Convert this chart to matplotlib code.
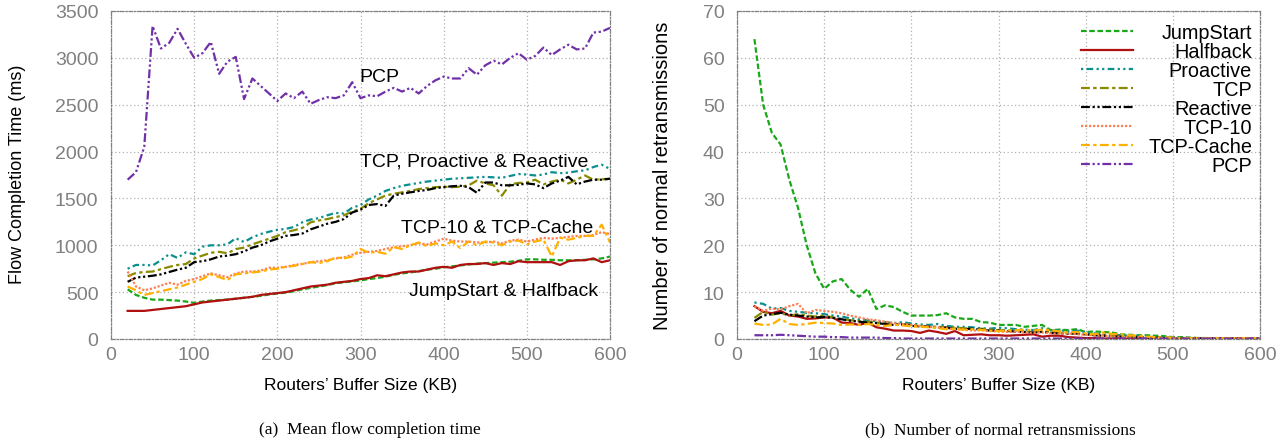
import numpy as np
import matplotlib
matplotlib.use("Agg")
from matplotlib import pyplot as plt

# buffer sizes (KB)
buf = list(range(20, 601, 10))

# (a) mean flow completion time (ms)
fct_jumpstart = [530, 470, 440, 420, 420, 415, 410, 400, 385, 400, 410, 415, 420, 430, 440, 450, 460, 475, 485, 495,
                 510, 530, 545, 560, 575, 595, 605, 615, 625, 640, 650, 665, 685, 700, 710, 725, 740, 750, 765, 775,
                 785, 795, 805, 810, 815, 820, 825, 835, 850, 850, 845, 845, 840, 840, 840, 845, 850, 860, 880]
fct_halfback = [300, 300, 300, 310, 320, 330, 340, 350, 370, 390, 400, 410, 420, 430, 440, 450, 470, 480, 490, 500,
                520, 540, 560, 570, 580, 600, 610, 620, 640, 650, 680, 670, 690, 710, 720, 720, 740, 760, 770, 760,
                790, 800, 800, 810, 790, 810, 800, 830, 820, 820, 820, 820, 790, 830, 840, 840, 860, 820, 840]
fct_proactive = [750, 790, 790, 785, 840, 905, 865, 925, 905, 985, 1000, 1000, 1010, 1075, 1035, 1085, 1120, 1145,
                 1165, 1175, 1195, 1245, 1275, 1290, 1320, 1345, 1340, 1400, 1430, 1490, 1530, 1580, 1610, 1635,
                 1650, 1665, 1680, 1690, 1700, 1710, 1715, 1720, 1725, 1730, 1725, 1720, 1740, 1760, 1755, 1745,
                 1755, 1780, 1770, 1775, 1790, 1800, 1835, 1860, 1815]
fct_tcp = [670, 705, 715, 720, 745, 770, 790, 800, 860, 890, 920, 930, 915, 960, 975, 1010, 1040, 1070, 1100, 1140,
           1160, 1185, 1245, 1265, 1280, 1300, 1320, 1360, 1390, 1450, 1490, 1530, 1550, 1565, 1580, 1600, 1610,
           1620, 1625, 1620, 1625, 1640, 1690, 1660, 1640, 1530, 1650, 1665, 1670, 1700, 1650, 1680, 1700, 1660,
           1700, 1745, 1700, 1705, 1710]
fct_reactive = [610, 655, 665, 675, 690, 715, 740, 760, 820, 830, 850, 880, 890, 905, 935, 975, 1000, 1040, 1070,
                1100, 1110, 1125, 1170, 1200, 1230, 1250, 1280, 1350, 1380, 1430, 1440, 1420, 1530, 1550, 1565,
                1580, 1590, 1610, 1620, 1630, 1635, 1620, 1560, 1670, 1670, 1640, 1640, 1645, 1660, 1650, 1610,
                1660, 1690, 1730, 1650, 1680, 1700, 1700, 1710]
fct_tcp10 = [720, 560, 520, 540, 570, 600, 580, 620, 640, 670, 700, 680, 660, 700, 720, 720, 730, 760, 760, 770,
             790, 800, 820, 830, 840, 860, 870, 900, 920, 930, 940, 960, 980, 990, 1000, 1020, 1010, 1040, 1070,
             1050, 1040, 1040, 1030, 1030, 1040, 1020, 1050, 1060, 1040, 1060, 1080, 1070, 1080, 1090, 1100, 1100,
             1110, 1140, 1120]
fct_tcpcache = [560, 520, 470, 490, 510, 530, 550, 580, 610, 640, 690, 660, 630, 690, 700, 710, 720, 740, 750, 770,
                780, 800, 820, 810, 830, 870, 860, 880, 960, 920, 930, 910, 980, 960, 1000, 1030, 990, 1020, 1000,
                1040, 970, 1040, 1000, 1040, 1030, 1000, 1040, 1050, 1010, 1040, 1060, 880, 1080, 1060, 1080, 1100,
                1100, 1220, 1030]
fct_pcp = [1700, 1780, 2050, 3340, 3100, 3160, 3310, 3150, 3000, 3050, 3170, 2830, 2960, 3010, 2560, 2780, 2700,
           2620, 2540, 2620, 2570, 2640, 2510, 2550, 2580, 2570, 2600, 2740, 2570, 2600, 2590, 2640, 2680, 2640,
           2680, 2620, 2700, 2760, 2800, 2780, 2780, 2890, 2820, 2920, 2970, 2930, 3000, 3050, 2980, 3020, 3110,
           3030, 3090, 3140, 3090, 3100, 3270, 3280, 3320]

# (b) number of normal retransmissions
rtx_jumpstart = [64, 50, 44, 41.5, 34, 28, 20, 14, 10.7, 12.3, 12.8, 10.5, 9.0, 10.7, 6.4, 7.2, 6.8, 5.8, 5.0, 5.0,
                 5.0, 5.1, 5.5, 4.6, 4.3, 4.3, 3.6, 3.5, 3.0, 3.0, 3.0, 2.6, 2.8, 3.0, 1.9, 2.0, 1.9, 2.1, 1.5, 1.6,
                 1.5, 1.4, 1.0, 0.9, 0.8, 0.8, 0.7, 0.6, 0.4, 0.4, 0.3, 0.2, 0.2, 0.1, 0.1, 0.1, 0.1, 0.1, 0.1]
rtx_halfback = [7.0, 5.8, 5.5, 6.0, 5.0, 4.8, 4.3, 4.4, 4.6, 4.6, 3.5, 3.4, 3.0, 3.5, 2.5, 2.2, 1.8, 1.8, 1.7, 1.3,
                1.8, 1.5, 1.1, 1.7, 0.8, 0.9, 1.0, 0.8, 0.8, 0.7, 0.8, 0.9, 1.0, 0.5, 0.7, 0.7, 0.4, 0.3, 0.2, 0.2,
                0.1, 0.1, 0.1, 0.1, 0.1, 0.1, 0.1, 0.1, 0.1, 0.1, 0.1, 0.1, 0.1, 0.1, 0.1, 0.1, 0.1, 0.1, 0.1]
rtx_proactive = [7.8, 7.5, 6.5, 6.6, 6.0, 5.8, 5.6, 5.5, 5.3, 5.0, 4.8, 4.4, 4.2, 4.0, 3.8, 3.6, 3.4, 3.6, 3.3, 3.1,
                 3.0, 3.2, 2.8, 2.6, 2.6, 2.5, 2.3, 2.2, 2.4, 2.3, 2.1, 2.0, 1.9, 2.3, 1.8, 1.9, 1.6, 1.8, 1.4, 1.2,
                 1.0, 0.9, 0.8, 0.7, 0.6, 0.5, 0.4, 0.3, 0.3, 0.2, 0.2, 0.1, 0.1, 0.1, 0.1, 0.1, 0.1, 0.1, 0.1]
rtx_tcp = [4.5, 5.8, 5.2, 5.5, 5.0, 5.3, 5.0, 4.8, 5.0, 4.6, 4.3, 4.0, 3.8, 3.6, 3.5, 3.3, 3.1, 3.2, 3.0, 2.8,
           2.7, 2.6, 2.5, 2.4, 2.3, 2.1, 2.2, 2.0, 1.9, 1.8, 1.9, 1.7, 1.6, 1.8, 1.5, 1.4, 1.4, 1.2, 1.0, 0.9,
           0.8, 0.7, 0.6, 0.5, 0.4, 0.4, 0.3, 0.3, 0.2, 0.1, 0.1, 0.1, 0.1, 0.1, 0.1, 0.1, 0.1, 0.1, 0.1]
rtx_reactive = [3.8, 5.0, 5.3, 5.6, 5.2, 5.0, 4.8, 4.6, 4.7, 4.5, 4.2, 3.9, 3.7, 3.5, 3.4, 3.2, 3.0, 3.1, 2.8, 2.7,
                2.6, 2.4, 2.4, 2.2, 2.1, 2.2, 2.0, 1.8, 1.8, 1.7, 1.6, 1.5, 1.4, 1.5, 1.3, 1.2, 1.1, 1.2, 1.0, 0.8,
                0.7, 0.6, 0.5, 0.4, 0.4, 0.3, 0.3, 0.2, 0.2, 0.1, 0.1, 0.1, 0.1, 0.1, 0.1, 0.1, 0.1, 0.1, 0.1]
rtx_tcp10 = [7.0, 6.0, 6.5, 6.3, 7.0, 7.5, 5.5, 6.2, 6.0, 5.8, 5.5, 5.0, 4.6, 4.2, 4.0, 3.7, 3.4, 3.2, 3.0, 2.8,
             2.6, 2.5, 2.3, 2.1, 2.0, 1.8, 1.9, 1.7, 1.6, 1.5, 1.6, 1.4, 1.3, 1.4, 1.2, 1.1, 1.2, 1.0, 0.9, 0.8,
             0.7, 0.6, 0.5, 0.4, 0.4, 0.3, 0.2, 0.2, 0.1, 0.1, 0.1, 0.1, 0.1, 0.1, 0.1, 0.1, 0.1, 0.1, 0.1]
rtx_tcpcache = [3.3, 3.0, 3.1, 4.3, 3.2, 3.0, 3.2, 3.5, 3.4, 3.3, 3.0, 3.1, 3.0, 3.2, 3.0, 2.8, 3.0, 2.9, 2.7, 2.6,
                2.5, 2.3, 2.1, 2.2, 2.0, 2.1, 1.9, 1.8, 1.7, 1.8, 1.9, 2.0, 1.8, 2.0, 1.9, 1.6, 1.4, 1.5, 1.2, 1.0,
                1.4, 1.1, 1.0, 0.8, 0.7, 0.5, 0.4, 0.3, 0.3, 0.2, 0.2, 0.2, 0.2, 0.2, 0.2, 0.2, 0.2, 0.2, 0.2]
rtx_pcp = [0.8, 0.8, 0.8, 0.9, 0.8, 0.7, 0.6, 0.5, 0.5, 0.4, 0.4, 0.3, 0.3, 0.3, 0.3, 0.2, 0.2, 0.1, 0.1, 0.1,
           0.1, 0.1, 0.1, 0.1, 0.1, 0.1, 0.1, 0.1, 0.1, 0.1, 0.1, 0.1, 0.1, 0.1, 0.1, 0.1, 0.1, 0.1, 0.1, 0.1,
           0.1, 0.1, 0.1, 0.1, 0.1, 0.1, 0.1, 0.1, 0.1, 0.1, 0.1, 0.1, 0.1, 0.1, 0.1, 0.1, 0.1, 0.1, 0.1]

names = ["JumpStart", "Halfback", "Proactive", "TCP", "Reactive", "TCP-10", "TCP-Cache", "PCP"]
fct = [fct_jumpstart, fct_halfback, fct_proactive, fct_tcp, fct_reactive, fct_tcp10, fct_tcpcache, fct_pcp]
rtx = [rtx_jumpstart, rtx_halfback, rtx_proactive, rtx_tcp, rtx_reactive, rtx_tcp10, rtx_tcpcache, rtx_pcp]

# gnuplot-ish styles
estilos = {
    "JumpStart": dict(color="#1aa81a", ls=(0, (2.5, 1.2))),
    "Halfback": dict(color="#b01010", ls="-"),
    "Proactive": dict(color="#0a8f8f", ls=(0, (1, 1.5, 3, 1.5, 1, 1.5))),
    "TCP": dict(color="#8a8a00", ls=(0, (4, 1.5, 1.5, 1.5))),
    "Reactive": dict(color="#000000", ls=(0, (4, 1.2, 1, 1.2, 1, 1.2))),
    "TCP-10": dict(color="#ff7f50", ls=(0, (1, 0.8))),
    "TCP-Cache": dict(color="#ffb000", ls=(0, (4, 1.5, 1.5, 1.5))),
    "PCP": dict(color="#7030a8", ls=(0, (4, 1.2, 1, 1.2, 1, 1.2))),
}

plt.rcParams['font.family'] = ['Liberation Sans', 'DejaVu Sans']
gris = "#808080"

fig = plt.figure(figsize=(12.84, 4.39), dpi=100)
ax1 = fig.add_axes([111/1284, 1-340/439, 499/1284, 328/439])
ax2 = fig.add_axes([737/1284, 1-340/439, 523/1284, 328/439])


def estilo_ejes(ax):
    ax.grid(True, color="#b0b0b0", ls=(0, (1, 2)), lw=0.9)
    for s in ax.spines.values():
        s.set_color(gris)
        s.set_linestyle((0, (3, 1.5, 1, 1.5)))
        s.set_linewidth(0.9)
    ax.tick_params(colors=gris, labelsize=14, length=0, labelcolor=gris)
    ax.tick_params(axis="y", pad=9)
    ax.tick_params(axis="x", pad=5)
    ax.set_xlim(0, 600)
    ax.set_xticks(range(0, 601, 100))
    ax.set_xlabel("Routers\u2019 Buffer Size (KB)", fontsize=12.5)
    ax.xaxis.set_label_coords(0.5, -0.115)


for n, y in zip(names, fct):
    ax1.plot(buf, y, lw=1.6, **estilos[n])
estilo_ejes(ax1)
ax1.set_ylim(0, 3500)
ax1.set_yticks(range(0, 3501, 500))
ax1.set_ylabel("Flow Completion Time (ms)", fontsize=13)
ax1.yaxis.set_label_coords(-0.17, 0.505)
ax1.text(299, 2800, "PCP", fontsize=14, va="center")
ax1.text(300, 1895, "TCP, Proactive & Reactive", fontsize=14, va="center")
ax1.text(349, 1195, "TCP-10 & TCP-Cache", fontsize=14, va="center")
ax1.text(358, 515, "JumpStart & Halfback", fontsize=14, va="center")

for n, y in zip(names, rtx):
    ax2.plot(buf, y, lw=1.6, label=n, **estilos[n])
estilo_ejes(ax2)
ax2.set_ylim(0, 70)
ax2.set_yticks(range(0, 71, 10))
ax2.set_ylabel("Number of normal retransmissions", fontsize=14.5)
ax2.yaxis.set_label_coords(-0.124, 0.5)

leg = ax2.legend(loc="upper right", frameon=False, fontsize=14.3, handlelength=2.65,
                 labelspacing=0.0, handletextpad=0.75, borderaxespad=0.0,
                 bbox_to_anchor=(1.0, 0.988))
# right-align the legend labels like gnuplot does
fig.canvas.draw()
anchos = [t.get_window_extent().width for t in leg.get_texts()]
ancho = max(anchos)
for t, w in zip(leg.get_texts(), anchos):
    t.set_position((ancho - w, 0))

fig.text(370/1284, 1-430/439, "(a)  Mean flow completion time", fontsize=12.5,
         family="Liberation Serif", ha="center", va="center")
fig.text(1000/1284, 1-430/439, "(b)  Number of normal retransmissions", fontsize=12.5,
         family="Liberation Serif", ha="center", va="center")

fig.savefig("out.png", dpi=100)
